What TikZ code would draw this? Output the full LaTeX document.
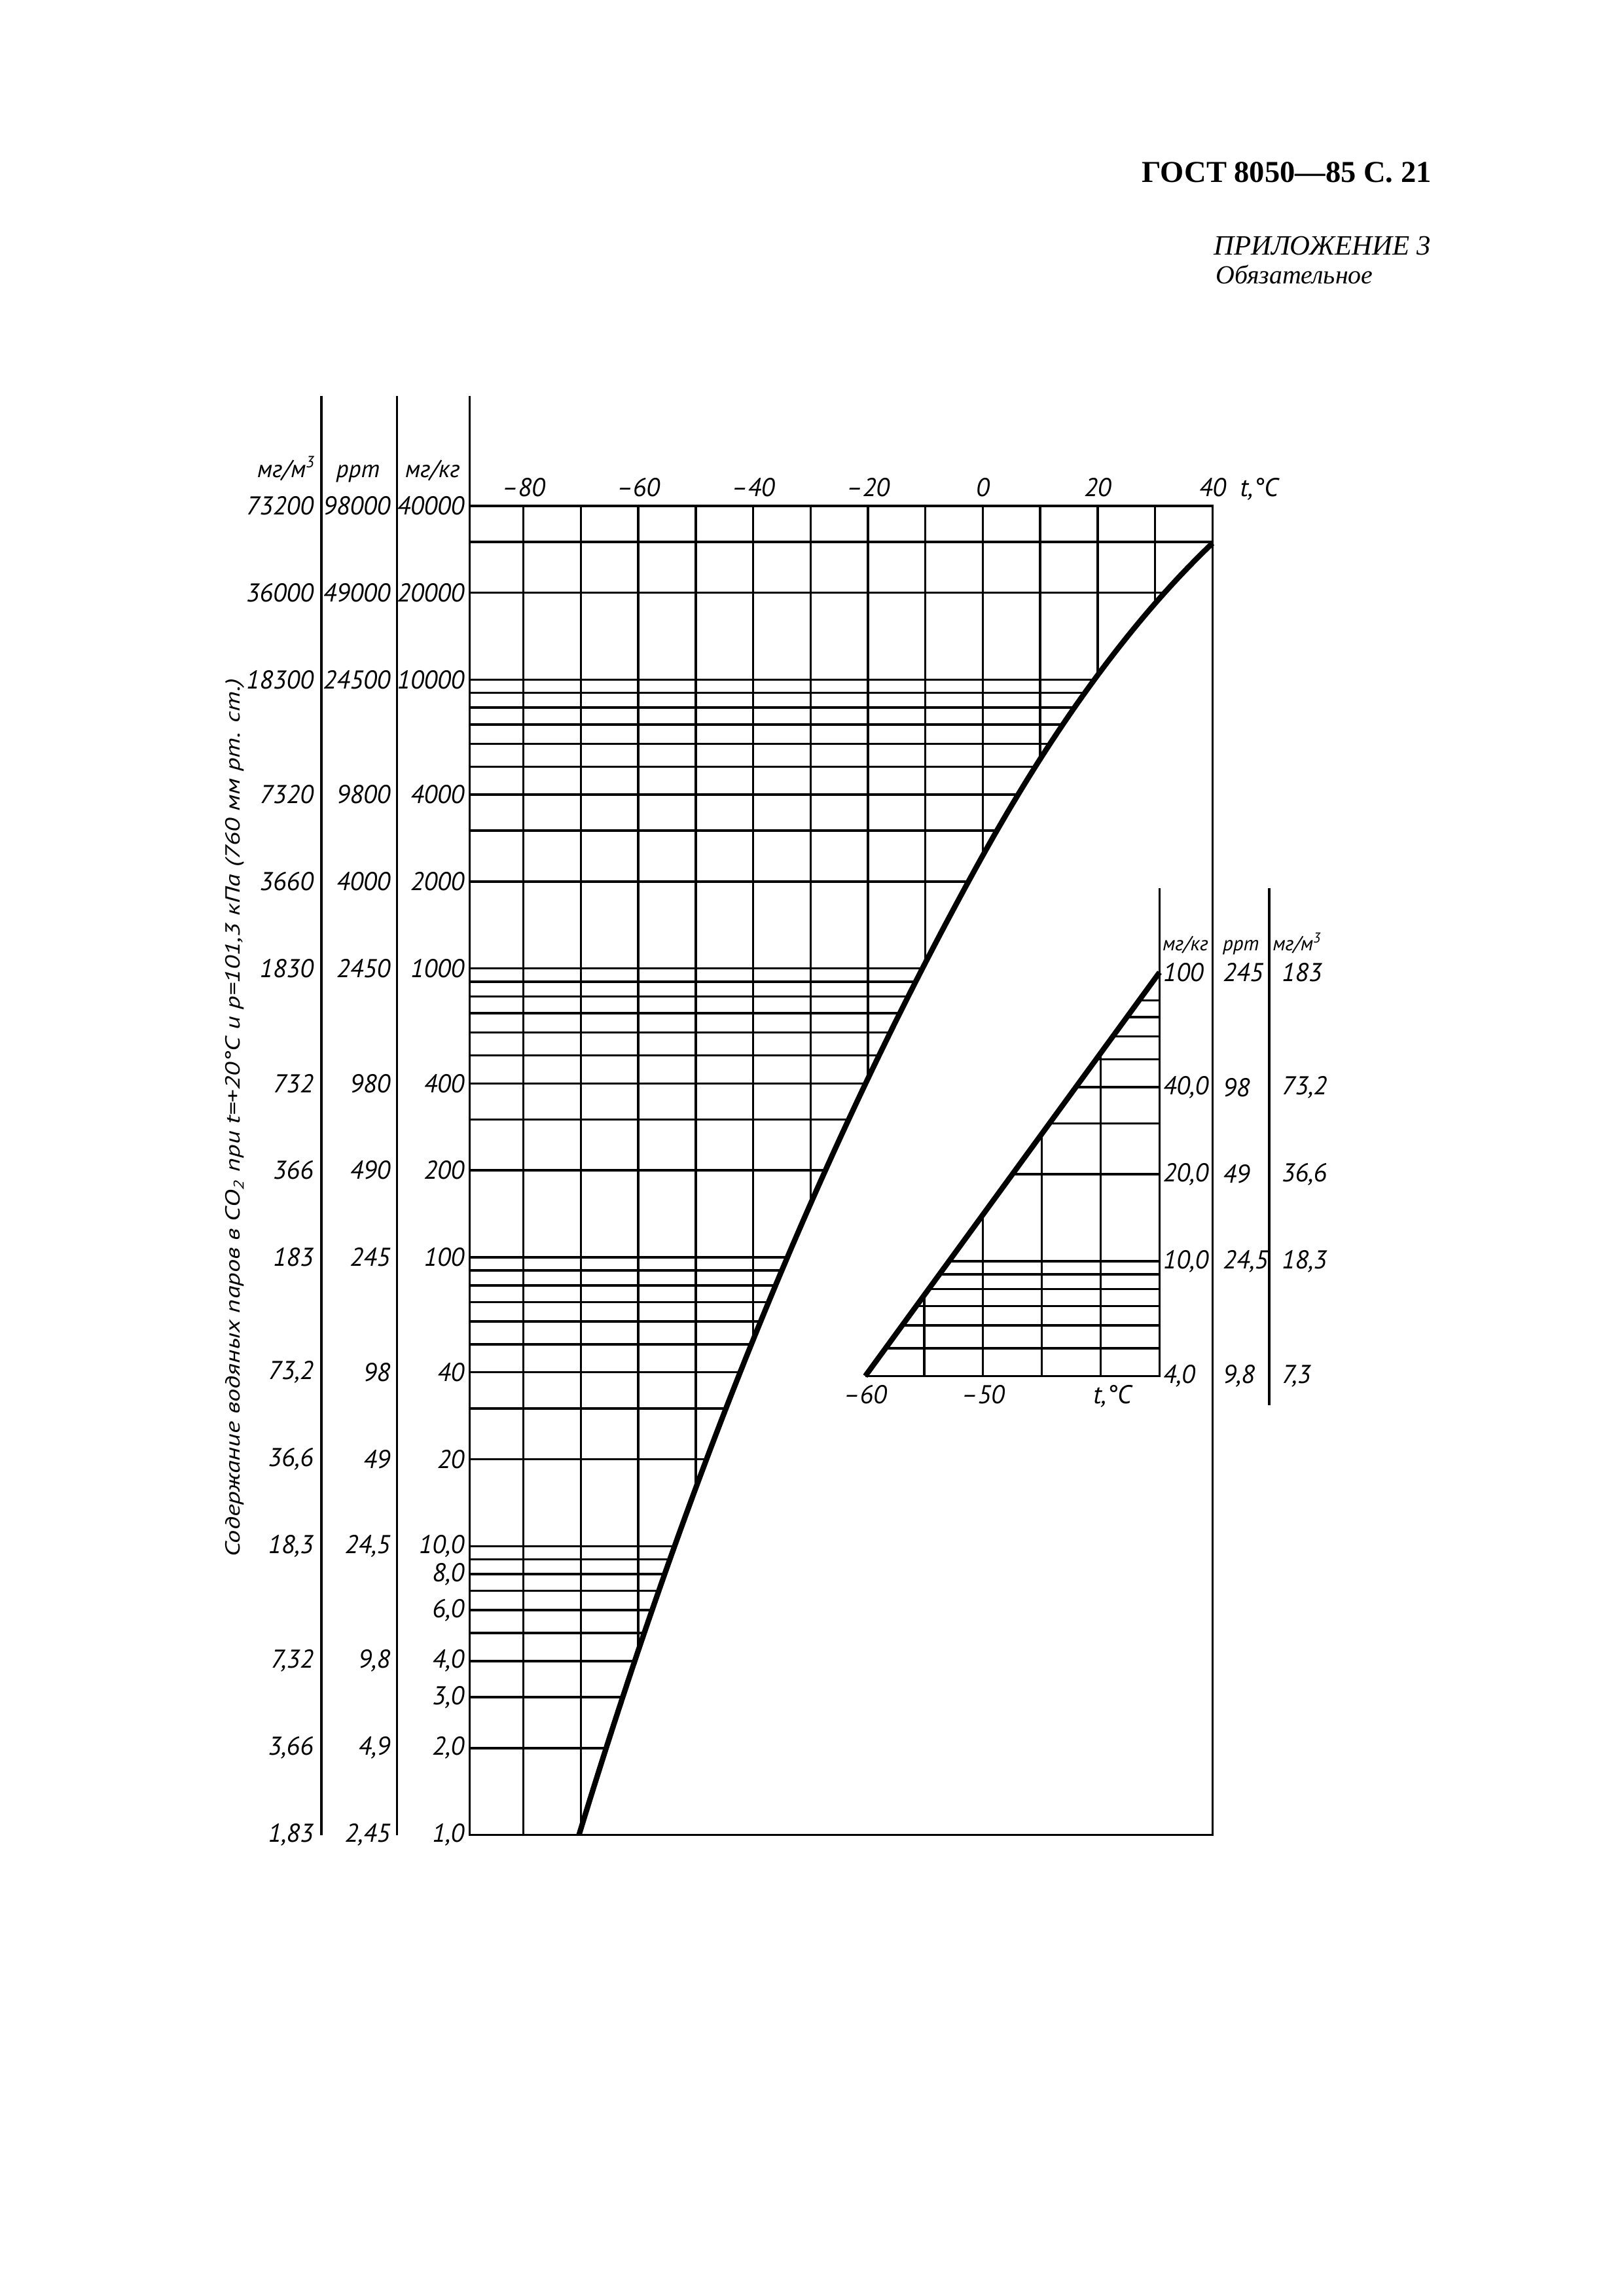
\documentclass[tikz,border=0pt]{standalone}
\usepackage{fontspec}
\setmainfont{Liberation Serif}
\newfontfamily\gost{PT Sans}
\usepackage{graphicx}
\usetikzlibrary{positioning}

% frost/dew point line: log10 of mg/kg against t, and back
\tikzset{declare function={
  frost(\x)=ifthenelse(\x<=0, 3.39128+9.75078*\x/(272.55+\x), 3.39131+7.65226*\x/(243.12+\x)+0.00010753*\x*(40-\x));
  tfrost(\x)=ifthenelse(\x<=3.3913, 272.55*(\x-3.39128)/(13.14206-\x), 243.12*(\x-3.39131)/(11.04357-\x));
  fix(\x)=0.00010753*max(\x,0)*(40-\x);
}}

\begin{document}
\begin{tikzpicture}[grid/.style={line width=0.85pt},
  curve/.style={line width=2pt},
  val/.style={font=\gost\itshape\fontsize{9.5}{11}\selectfont, inner sep=0pt},
  unit/.style={font=\gost\itshape\fontsize{9}{11}\selectfont, inner sep=0pt},
  smallunit/.style={font=\gost\itshape\fontsize{7.5}{9}\selectfont, inner sep=0pt},
  sidetext/.style={font=\gost\itshape\fontsize{7.5}{9}\selectfont, inner sep=0pt}
  ]
  \useasboundingbox (0,0) rectangle (21,29.7);

  \node[anchor=base east, inner sep=0pt, font=\bfseries\fontsize{11.2}{13}\selectfont] (gost) at (18.52,27.34) {ГОСТ 8050—85 С. 21};
  \node[anchor=base east, inner sep=0pt, font=\itshape\fontsize{10.3}{12}\selectfont] (annex) at (18.51,26.40) {ПРИЛОЖЕНИЕ 3};
  \node[anchor=base west, inner sep=0pt, font=\itshape\fontsize{9.6}{12}\selectfont] (oblig) at (15.717,26.03) {Обязательное};

  \node[sidetext, rotate=90, anchor=base] (ytitle) at (3.106,15.24)
    {\scalebox{1.3}[1]{Содержание водяных паров в CO\textsubscript{2} при t=+20°C и p=101,3 кПа (760 мм рт. ст.)}};

  % unit columns on the left
  \draw[grid] (4.158,24.58) -- (4.158,5.964);
  \draw[grid] (5.134,24.58) -- (5.134,5.964);
  \draw[grid] (6.075,24.58) -- (6.075,23.157);
  \node[unit, anchor=base east] (hm3) at (4.09,23.52) {мг/м\textsuperscript{3}};
  \node[unit, anchor=base] (hppm) at (4.63,23.52) {ppm};
  \node[unit, anchor=base] (hkg) at (5.594,23.52) {мг/кг};

  \begin{scope}[shift={(12.7116cm,5.964cm)}, x=0.07427cm, y=3.736cm]
    \draw[grid] (-89.36,0) rectangle (40,4.60206);
    \foreach \e in {0,1,2,3}
      \foreach \m in {2,...,10} {
        \pgfmathsetmacro\lv{\e+log10(\m)}
        \pgfmathsetmacro\tend{tfrost(\lv)}
        \pgfmathsetmacro\tend{tfrost(\lv-fix(\tend))}
        \pgfmathsetmacro\tend{min(tfrost(\lv-fix(\tend)),40)}
        \draw[grid] (-89.36,\lv) -- (\tend,\lv);
      }
    \foreach \lv in {4.30103,4.47712} {
      \pgfmathsetmacro\tend{tfrost(\lv)}
      \pgfmathsetmacro\tend{tfrost(\lv-fix(\tend))}
      \pgfmathsetmacro\tend{min(tfrost(\lv-fix(\tend)),40)}
      \draw[grid] (-89.36,\lv) -- (\tend,\lv);
    }
    \foreach \tem in {-80,-70,...,30} {
      \pgfmathsetmacro\lend{max(frost(\tem),0)}
      \draw[grid] (\tem,4.60206) -- (\tem,\lend);
    }
    \draw[curve] plot[domain=-70.33:40, samples=111, smooth] (\x,{frost(\x)});

    \foreach \lv/\ma/\pp/\mk [count=\i] in {4.60206/73200/98000/40000, 4.30103/36000/49000/20000,
        4/18300/24500/10000, 3.60206/7320/9800/4000, 3.30103/3660/4000/2000, 3/1830/2450/1000,
        2.60206/732/980/400, 2.30103/366/490/200, 2/183/245/100, 1.60206/{73,2}/98/40,
        1.30103/{36,6}/49/20, 1/{18,3}/{24,5}/{10,0}, 0.90309/{}/{}/{8,0}, 0.77815/{}/{}/{6,0},
        0.60206/{7,32}/{9,8}/{4,0}, 0.47712/{}/{}/{3,0}, 0.30103/{3,66}/{4,9}/{2,0}, 0/{1,83}/{2,45}/{1,0}} {
      \node[val, anchor=east] (kg\i) at ([xshift=-0.065cm]-89.36,\lv) {\mk};
      \node[val, anchor=east] (ppm\i) at ([xshift=-1.021cm]-89.36,\lv) {\pp};
      \node[val, anchor=east] (m3\i) at ([xshift=-2.015cm]-89.36,\lv) {\ma};
    }
    \foreach \tem/\lab in {-80/–80, -60/–60, -40/–40, -20/–20, 0/0, 20/20, 40/40}
      \node[val, anchor=base] (t\tem) at ([yshift=0.12cm]\tem,4.60206) {\lab};
  \end{scope}
  \node[val, right=0.17cm of t40.base east, anchor=base west] (tunit) {t,°C};

  % small chart
  \begin{scope}[shift={(11.191cm,9.65cm)}, x=0.15225cm, y=3.736cm]
    \draw[grid] (0,0.60206) -- (25,0.60206) -- (25,2.2917);
    \foreach \m in {5,...,10} {
      \pgfmathsetmacro\lv{log10(\m)}
      \pgfmathsetmacro\u{25*(\lv-0.60206)/1.39794}
      \draw[grid] (\u,\lv) -- (25,\lv);
    }
    \foreach \m in {2,...,8} {
      \pgfmathsetmacro\lv{1+log10(\m)}
      \pgfmathsetmacro\u{25*(\lv-0.60206)/1.39794}
      \draw[grid] (\u,\lv) -- (25,\lv);
    }
    \foreach \u in {5,10,15,20} {
      \pgfmathsetmacro\lv{0.60206+1.39794*\u/25}
      \draw[grid] (\u,\lv) -- (\u,0.60206);
    }
    \draw[curve] (0,0.60206) -- (25,2);

    \foreach \lv/\mk/\pp/\ma [count=\i] in {2/100/245/183, 1.60206/{40,0}/98/{73,2},
        1.30103/{20,0}/49/{36,6}, 1/{10,0}/{24,5}/{18,3}, 0.60206/{4,0}/{9,8}/{7,3}} {
      \node[val, anchor=west] (skg\i) at ([xshift=0.04cm]25,\lv) {\mk};
      \node[val, anchor=west] (sppm\i) at ([xshift=0.813cm]25,\lv) {\pp};
      \node[val, anchor=west] (sm3\i) at ([xshift=1.573cm]25,\lv) {\ma};
    }
    \node[val, anchor=north] (s60) at ([yshift=-0.11cm]0,0.60206) {–60};
    \node[val, anchor=north] (s50) at ([yshift=-0.11cm]10,0.60206) {–50};
    \node[val, anchor=north] (sunit) at ([yshift=-0.11cm]21,0.60206) {t,°C};
  \end{scope}
  \draw[grid] (16.418,18.212) -- (16.418,11.52);
  \node[smallunit, anchor=base west] (shkg) at (15.03,17.40) {мг/кг};
  \node[smallunit, anchor=base] (shppm) at (16.05,17.40) {ppm};
  \node[smallunit, anchor=base west] (shm3) at (16.454,17.40) {мг/м\textsuperscript{3}};
\end{tikzpicture}
\end{document}
